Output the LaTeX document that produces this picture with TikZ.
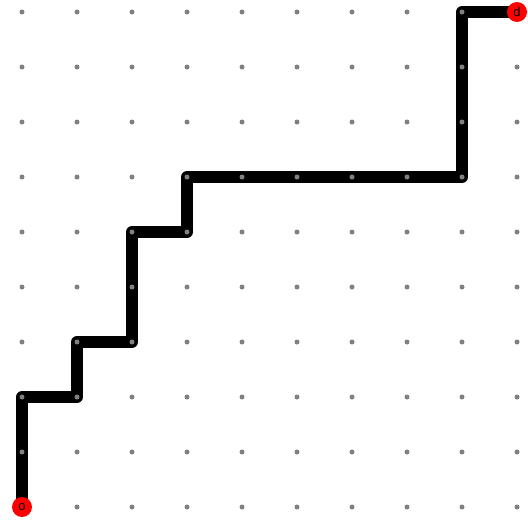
\documentclass[tikz,border=0pt]{standalone}
\usepackage{fontspec}
\setsansfont{Liberation Sans}
\tikzset{
  gdot/.style={circle,fill=gray,inner sep=0pt,minimum size=5pt},
  endpt/.style={circle,fill=red,inner sep=0pt,minimum size=20pt,font=\sffamily\fontsize{13pt}{13pt}\selectfont},
  route/.style={line width=12pt,line join=round,line cap=round,black}
}
\begin{document}
\begin{tikzpicture}[x=1pt,y=-1pt]
\useasboundingbox (0,0) rectangle (528,520);
\foreach \i in {0,...,9} {
  \foreach \j in {0,...,9} {
    \coordinate (p\i-\j) at ({22+55*\i},{12+55*\j});
  }
}
\draw[route] (p0-9) -- (p0-7) -- (p1-7) -- (p1-6) -- (p2-6) -- (p2-4) -- (p3-4) -- (p3-3) -- (p8-3) -- (p8-0) -- (p9-0);
\foreach \i in {0,...,9} {
  \foreach \j in {0,...,9} {
    \node[gdot] (d\i-\j) at (p\i-\j) {};
  }
}
\node[endpt] (o) at (p0-9) {o};
\node[endpt] (d) at (p9-0) {d};
\end{tikzpicture}
\end{document}
